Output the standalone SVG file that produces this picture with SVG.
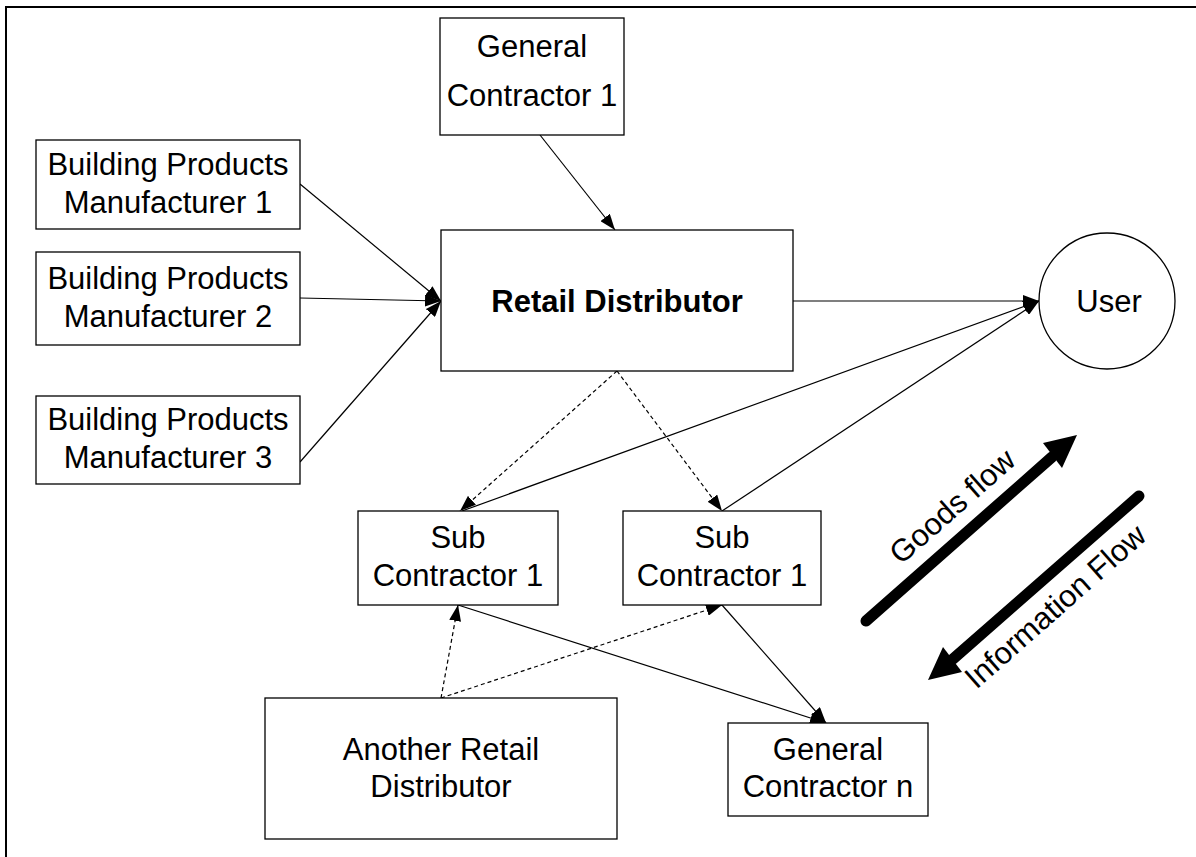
<svg xmlns="http://www.w3.org/2000/svg" width="1196" height="857" viewBox="0 0 1196 857">
<style>
.box{fill:#fff;stroke:#000;stroke-width:1.3}
.t{font-family:"Liberation Sans",Arial,sans-serif;font-size:31px;fill:#000;text-anchor:middle}
.b{font-weight:bold}
.c{fill:none;stroke:#000;stroke-width:1.2}
.d{fill:none;stroke:#000;stroke-width:1.2;stroke-dasharray:4 3}
.big{fill:none;stroke:#000;stroke-width:11;stroke-linecap:round}
</style>
<defs>
<marker id="ah" viewBox="0 0 16 12" refX="16" refY="6" markerWidth="16" markerHeight="12" markerUnits="userSpaceOnUse" orient="auto">
<path d="M0,0 L16,6 L0,12 z" fill="#000"/>
</marker>
</defs>
<rect width="1196" height="857" fill="#fff"/>
<path d="M6,857 L6,7 L1196,7" fill="none" stroke="#000" stroke-width="2"/>

<g id="connectors">
<line class="c" x1="540" y1="135" x2="615" y2="230" marker-end="url(#ah)"/>
<line class="c" x1="300" y1="184" x2="441" y2="301" marker-end="url(#ah)"/>
<line class="c" x1="300" y1="298" x2="441" y2="301" marker-end="url(#ah)"/>
<line class="c" x1="300" y1="462" x2="441" y2="301" marker-end="url(#ah)"/>
<line class="c" x1="793" y1="301" x2="1039" y2="301" marker-end="url(#ah)"/>
<line class="c" x1="462" y1="511" x2="1039" y2="301" marker-end="url(#ah)"/>
<line class="c" x1="722" y1="511" x2="1039" y2="301" marker-end="url(#ah)"/>
<line class="d" x1="617" y1="371" x2="460" y2="511" marker-end="url(#ah)"/>
<line class="d" x1="617" y1="371" x2="722" y2="511" marker-end="url(#ah)"/>
<line class="d" x1="441" y1="698" x2="458" y2="605" marker-end="url(#ah)"/>
<line class="d" x1="441" y1="698" x2="722" y2="605" marker-end="url(#ah)"/>
<line class="c" x1="458" y1="605" x2="826" y2="723" marker-end="url(#ah)"/>
<line class="c" x1="722" y1="605" x2="826" y2="723" marker-end="url(#ah)"/>
</g>

<g id="gc1"><rect class="box" x="440" y="18" width="184" height="117"/>
<text class="t" x="532" y="57">General</text><text class="t" x="532" y="106">Contractor 1</text></g>
<g id="bpm1"><rect class="box" x="36" y="140" width="264" height="89"/>
<text class="t" x="168" y="175">Building Products</text><text class="t" x="168" y="213">Manufacturer 1</text></g>
<g id="bpm2"><rect class="box" x="36" y="252" width="264" height="93"/>
<text class="t" x="168" y="289">Building Products</text><text class="t" x="168" y="327">Manufacturer 2</text></g>
<g id="bpm3"><rect class="box" x="36" y="396" width="264" height="88"/>
<text class="t" x="168" y="430">Building Products</text><text class="t" x="168" y="468">Manufacturer 3</text></g>
<g id="retail"><rect class="box" x="441" y="230" width="352" height="141"/>
<text class="t b" x="617" y="312">Retail Distributor</text></g>
<g id="user"><circle class="box" cx="1107" cy="301" r="68"/>
<text class="t" x="1109" y="312">User</text></g>
<g id="sub1"><rect class="box" x="358" y="511" width="200" height="94"/>
<text class="t" x="458" y="548">Sub</text><text class="t" x="458" y="586">Contractor 1</text></g>
<g id="sub2"><rect class="box" x="623" y="511" width="198" height="94"/>
<text class="t" x="722" y="548">Sub</text><text class="t" x="722" y="586">Contractor 1</text></g>
<g id="another"><rect class="box" x="265" y="698" width="352" height="141"/>
<text class="t" x="441" y="760">Another Retail</text><text class="t" x="441" y="797">Distributor</text></g>
<g id="gcn"><rect class="box" x="728" y="723" width="200" height="93"/>
<text class="t" x="828" y="760">General</text><text class="t" x="828" y="797">Contractor n</text></g>

<g id="flows">
<line class="big" x1="866" y1="621" x2="1052" y2="457"/>
<path d="M1077,435 L1043,443 L1062,468 z" fill="#000"/>
<line class="big" x1="1139" y1="496" x2="953" y2="659"/>
<path d="M928,680 L962,672 L943,647 z" fill="#000"/>
<text class="t" transform="translate(952,506) rotate(-41.4)" x="0" y="11">Goods flow</text>
<text class="t" transform="translate(1055,606) rotate(-41.4)" x="0" y="11">Information Flow</text>
</g>
</svg>
